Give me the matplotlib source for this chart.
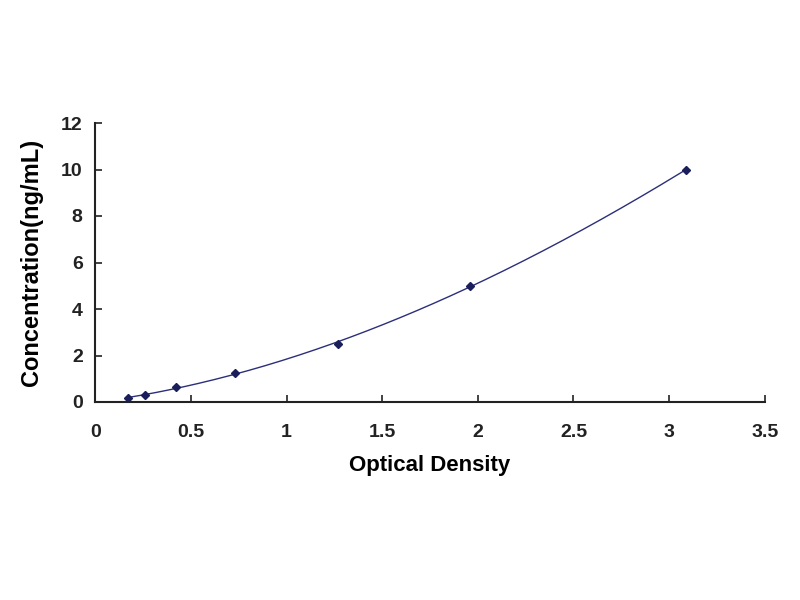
import numpy as np
import matplotlib.pyplot as plt

# standard curve readings
od = [0.17, 0.26, 0.42, 0.73, 1.27, 1.96, 3.09]
conc = [0.156, 0.312, 0.625, 1.25, 2.5, 5, 10]
xticks = [0, 0.5, 1, 1.5, 2, 2.5, 3, 3.5]
yticks = [0, 2, 4, 6, 8, 10, 12]

plt.rcParams['font.family'] = ['Liberation Sans', 'DejaVu Sans']
plt.rcParams['font.weight'] = 'bold'

fig = plt.figure(figsize=(8, 6), dpi=100)
ax = fig.add_axes([0.119, 0.33, 0.837, 0.465])

# trendline through the standards
coef = np.polyfit(od, conc, 3)
xs = np.linspace(min(od), max(od), 200)
ax.plot(xs, np.polyval(coef, xs), color='#2b2f7a', lw=1)
ax.plot(od, conc, linestyle='none', marker='D', ms=4, color='#1a1f5c')

ax.set_xlim(0, 3.5)
ax.set_ylim(0, 12)
ax.set_xticks(xticks)
ax.set_xticklabels([f'{t:g}' for t in xticks])
ax.set_yticks(yticks)
ax.tick_params(direction='in', length=5, width=1.2, labelsize=14, colors='#222222')
for lab in ax.get_xticklabels() + ax.get_yticklabels():
    lab.set_fontweight('bold')
ax.tick_params(axis='x', pad=16)
ax.tick_params(axis='y', pad=9)

for s in ['top', 'right']:
    ax.spines[s].set_visible(False)
for s in ['left', 'bottom']:
    ax.spines[s].set_linewidth(1.5)
    ax.spines[s].set_color('#222222')

ax.set_xlabel('Optical Density', fontsize=16, fontweight='bold', labelpad=10)
ax.set_ylabel('Concentration(ng/mL)', fontsize=17, fontweight='bold', labelpad=13)

fig.savefig('out.png', dpi=100)
